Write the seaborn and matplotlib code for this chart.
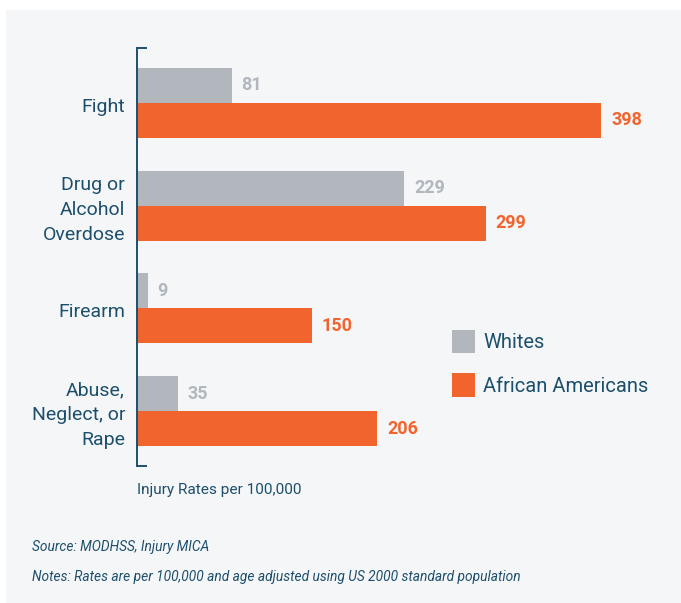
import matplotlib
matplotlib.use("Agg")
import matplotlib.pyplot as plt
import matplotlib.patches as mpatches
import matplotlib.transforms as mtransforms
import seaborn as sns
import pandas as pd

categories = ["Fight", "Drug or\nAlcohol\nOverdose", "Firearm", "Abuse,\nNeglect, or\nRape"]
whites = [81, 229, 9, 35]
african_americans = [398, 299, 150, 206]
series_names = ["Whites", "African Americans"]

GRAY = "#B1B7BD"
ORANGE = "#F2642E"
TEAL = "#1D4F6C"
BG = "#F4F6F8"

sns.set_theme(style="white")
plt.rcParams['font.family'] = ['Roboto', 'DejaVu Sans']

df = pd.DataFrame({
    "category": categories * 2,
    "value": whites + african_americans,
    "group": [series_names[0]] * len(categories) + [series_names[1]] * len(categories),
})

fig = plt.figure(figsize=(6.81, 6.03), dpi=100)
fig.patch.set_facecolor("white")
fig.add_artist(mpatches.Rectangle((6 / 681, 0), 1, 1 - 10 / 603, transform=fig.transFigure,
                                  facecolor=BG, edgecolor="none", zorder=-10))

ax = fig.add_axes([137 / 681, (603 - 466) / 603, 525 / 681, 418 / 603])
ax.set_facecolor("none")
sns.barplot(data=df, y="category", x="value", hue="group", orient="h",
            palette=[GRAY, ORANGE], width=0.68, ax=ax, legend=False,
            saturation=1, errorbar=None, linewidth=0, edgecolor="none")

ax.set_xlim(0, 450)
ax.set_ylim(3.534, -0.534)
ax.set_xlabel("")
ax.set_ylabel("")
ax.set_xticks([])
for s in ["top", "right", "bottom"]:
    ax.spines[s].set_visible(False)
ax.spines["left"].set_color(TEAL)
ax.spines["left"].set_linewidth(1.4)
ax.tick_params(axis="y", length=0, labelleft=False)

# category labels (right aligned, slightly below group centre)
lab_tr = mtransforms.blended_transform_factory(ax.transAxes, ax.transData) + \
    mtransforms.ScaledTranslation(-12 / 100, -4 / 100, fig.dpi_scale_trans)
for i, cat in enumerate(categories):
    ax.text(0, i, cat, transform=lab_tr, ha="right", va="center", color=TEAL,
            fontsize=14, multialignment="right", linespacing=1.5)

# bracket ends
for yy in (0, 1):
    ax.plot([0, 10 / 525], [yy, yy], transform=ax.transAxes, color=TEAL,
            lw=1.4, clip_on=False, solid_capstyle="butt")

for cont, col in zip(ax.containers, [GRAY, ORANGE]):
    ax.bar_label(cont, padding=7, color=col, fontsize=13, fontweight="bold")

handles = [mpatches.Patch(facecolor=GRAY, edgecolor="none", label=series_names[0]),
           mpatches.Patch(facecolor=ORANGE, edgecolor="none", label=series_names[1])]
leg = fig.legend(handles=handles, loc="upper left", bbox_to_anchor=(452 / 681, 1 - 330 / 603),
                 frameon=False, fontsize=14.5, handlelength=1.15, handleheight=1.4,
                 handletextpad=0.4, labelspacing=1.0, borderaxespad=0, borderpad=0)
for t in leg.get_texts():
    t.set_color(TEAL)

fig.text(137 / 681, 1 - 490 / 603, "Injury Rates per 100,000", color=TEAL, fontsize=11.1,
         va="center", ha="left")
fig.text(32 / 681, 1 - 547 / 603, "Source: MODHSS, Injury MICA", color=TEAL, fontsize=9.9,
         style="italic", va="center", ha="left")
fig.text(32 / 681, 1 - 577 / 603,
         "Notes: Rates are per 100,000 and age adjusted using US 2000 standard population",
         color=TEAL, fontsize=9.9, style="italic", va="center", ha="left")

fig.savefig("out.png", dpi=100, facecolor=fig.get_facecolor())
